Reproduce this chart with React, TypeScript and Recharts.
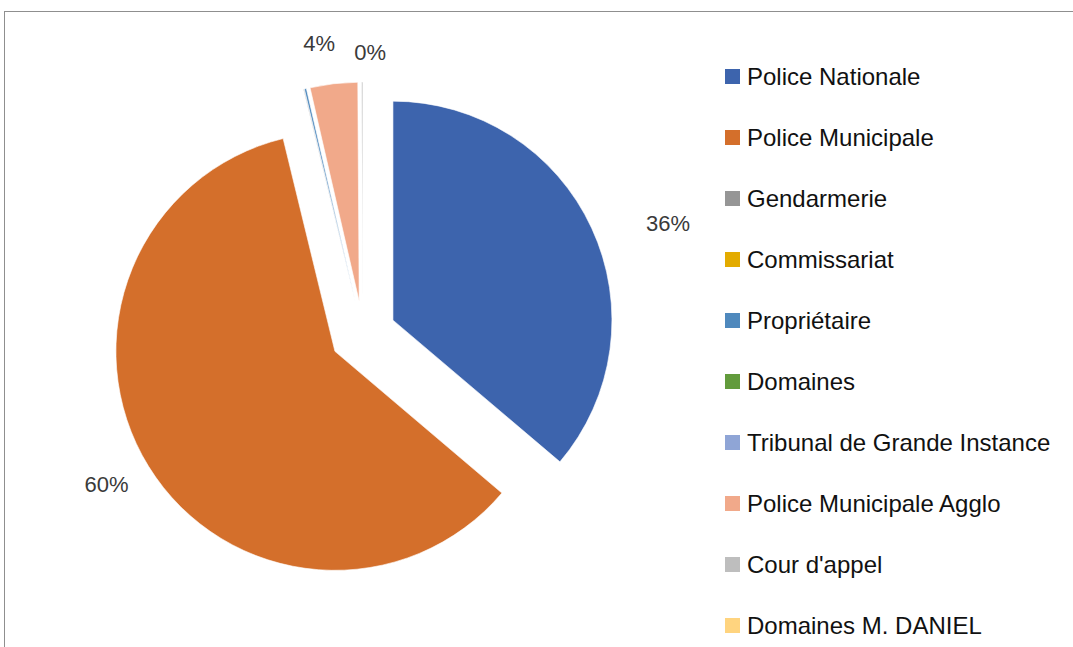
import { PieChart, Pie, Cell, Sector, Legend } from "recharts";

const categories = [
  "Police Nationale",
  "Police Municipale",
  "Gendarmerie",
  "Commissariat",
  "Propriétaire",
  "Domaines",
  "Tribunal de Grande Instance",
  "Police Municipale Agglo",
  "Cour d'appel",
  "Domaines M. DANIEL",
];
const values = [36.2, 60.0, 0.05, 0, 0.15, 0, 0, 3.5, 0.1, 0];
const colors = [
  "#3D64AD",
  "#D46F2B",
  "#969696",
  "#E3AB00",
  "#4F89BD",
  "#629B3C",
  "#8FA5D6",
  "#F1A98A",
  "#BEBEBE",
  "#FFD47F",
];
// only these slices carry a visible percent label in the original,
// with a small nudge to mimic Excel's "best fit" placement
const labelNudge: Record<string, [number, number]> = {
  "Police Nationale": [40, 12],
  "Police Municipale": [-8, -3],
  "Police Municipale Agglo": [-10, 0],
  "Cour d'appel": [8, 10],
};

const data = categories.map((name, i) => ({ name, value: values[i] }));

const RAD = Math.PI / 180;
const EXPLODE = 33;
const FONT = "'Liberation Sans', Arial, sans-serif";

function ExplodedSlice(props: any) {
  const { cx, cy, midAngle } = props;
  const dx = EXPLODE * Math.cos(-midAngle * RAD);
  const dy = EXPLODE * Math.sin(-midAngle * RAD);
  return <Sector {...props} cx={cx + dx} cy={cy + dy} />;
}

function renderLabel(props: any) {
  const { cx, cy, midAngle, outerRadius, percent, name } = props;
  const nudge = labelNudge[name];
  if (!nudge) return null;
  const r = outerRadius + EXPLODE + 40;
  const x = cx + r * Math.cos(-midAngle * RAD) + nudge[0];
  const y = cy + r * Math.sin(-midAngle * RAD) + nudge[1];
  return (
    <text
      x={x}
      y={y}
      textAnchor="middle"
      dominantBaseline="central"
      fill="#3a3a3a"
      fontSize={22}
      fontFamily={FONT}
    >
      {`${Math.round(percent * 100)}%`}
    </text>
  );
}

function LegendList() {
  return (
    <div style={{ fontFamily: FONT, fontSize: 24, color: "#111" }}>
      {categories.map((name, i) => (
        <div
          key={name}
          style={{ height: 61, display: "flex", alignItems: "center" }}
        >
          <span
            style={{
              width: 15,
              height: 15,
              background: colors[i],
              marginRight: 7,
              display: "inline-block",
            }}
          />
          <span>{name}</span>
        </div>
      ))}
    </div>
  );
}

export default function App() {
  return (
    <div
      style={{
        position: "relative",
        width: 1073,
        height: 647,
        overflow: "hidden",
        background: "#fff",
      }}
    >
      <style>{`body{margin:0}`}</style>
      <div
        style={{
          position: "absolute",
          left: 4,
          top: 11,
          width: 1100,
          height: 700,
          border: "1px solid #8f8f8f",
        }}
      />
      <PieChart
        width={1073}
        height={647}
        margin={{ top: 0, right: 0, bottom: 0, left: 0 }}
        style={{ position: "absolute", left: 0, top: 0 }}
      >
        <Pie
          data={data}
          dataKey="value"
          nameKey="name"
          cx={363}
          cy={334}
          outerRadius={219}
          startAngle={90}
          endAngle={-270}
          stroke="#fff"
          strokeWidth={0.6}
          shape={ExplodedSlice}
          label={renderLabel}
          labelLine={false}
          isAnimationActive={false}
        >
          {data.map((d, i) => (
            <Cell key={d.name} fill={colors[i]} />
          ))}
        </Pie>
        <Legend
          layout="vertical"
          align="right"
          verticalAlign="top"
          content={<LegendList />}
          wrapperStyle={{ left: 725, top: 46, width: 345 }}
        />
      </PieChart>
    </div>
  );
}
